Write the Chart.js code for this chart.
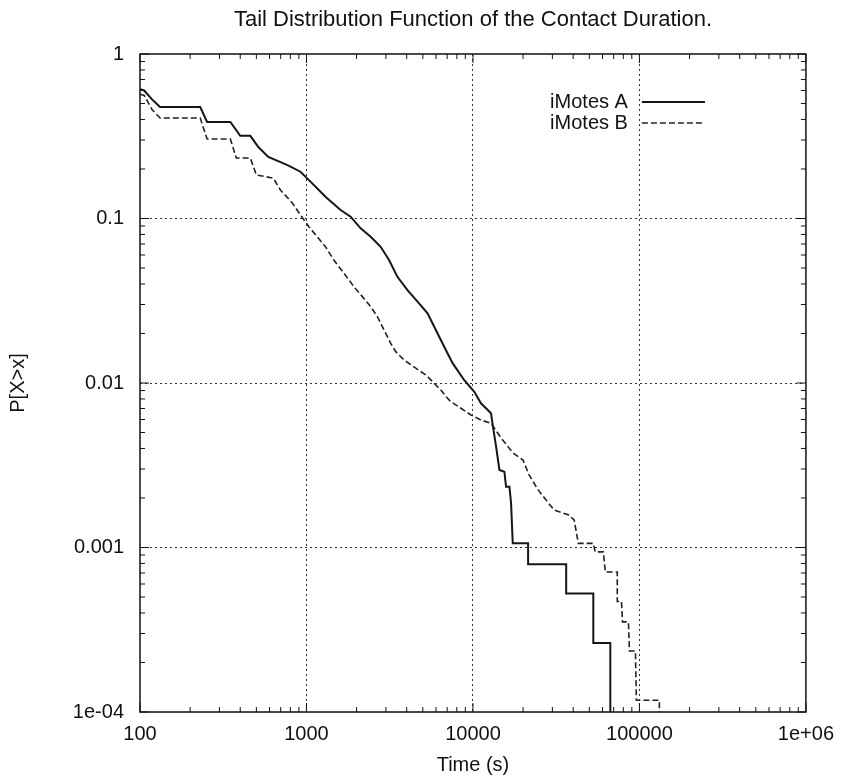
<!DOCTYPE html>
<html>
<head>
<meta charset="utf-8">
<title>Tail Distribution Function of the Contact Duration.</title>
<script src="https://cdn.jsdelivr.net/npm/chart.js@4.4.0/dist/chart.umd.min.js"></script>
<style>
  html, body { margin: 0; padding: 0; background: #fff; }
  canvas { display: block; }
</style>
</head>
<body>
<canvas id="chart" width="844" height="781"></canvas>
<script>
// values: contact duration (s) and P[X>x]
const timeA = [100, 106, 118, 132, 230, 253, 349, 400, 460, 514, 590, 769, 920, 1057, 1300, 1603, 1842, 2115, 2430, 2790, 3133, 3518, 4043, 4648, 5337, 5987, 6720, 7547, 8870, 10190, 11170, 12270, 12830, 13140, 13770, 14420, 15450, 15810, 16560, 16940, 17340, 21440, 21440, 36310, 36310, 52840, 52840, 66850, 66850];
const probA = [0.61, 0.60, 0.53, 0.476, 0.476, 0.386, 0.386, 0.318, 0.318, 0.272, 0.237, 0.211, 0.1925, 0.1675, 0.1357, 0.1127, 0.1026, 0.0872, 0.0775, 0.0673, 0.0559, 0.0442, 0.0367, 0.0312, 0.0265, 0.021, 0.0166, 0.0132, 0.0104, 0.00885, 0.00753, 0.00686, 0.00655, 0.00556, 0.0041, 0.00296, 0.00289, 0.00234, 0.00234, 0.00186, 0.00106, 0.00106, 0.00079, 0.00079, 0.000526, 0.000526, 0.000263, 0.000263, 0.00005];

const timeB = [100, 106, 118, 132, 230, 253, 349, 379, 460, 500, 632, 697, 824, 920, 1033, 1159, 1300, 1459, 1678, 1927, 2166, 2430, 2667, 2924, 3207, 3438, 3857, 4535, 5210, 5715, 6412, 7040, 7360, 8470, 9730, 11170, 12830, 14760, 17420, 20000, 21730, 24630, 28310, 30770, 37350, 40550, 42950, 52840, 54300, 60700, 62400, 73600, 73600, 78000, 79100, 85900, 87100, 94600, 95900, 131800, 131800];
const probB = [0.57, 0.56, 0.46, 0.408, 0.408, 0.304, 0.304, 0.233, 0.233, 0.184, 0.176, 0.149, 0.124, 0.105, 0.0892, 0.0775, 0.0674, 0.056, 0.0465, 0.0385, 0.0335, 0.0291, 0.0253, 0.021, 0.0174, 0.0155, 0.0138, 0.0123, 0.0112, 0.0102, 0.00906, 0.00807, 0.0077, 0.00702, 0.00639, 0.00596, 0.00569, 0.00463, 0.00375, 0.0034, 0.00276, 0.00224, 0.00187, 0.00169, 0.00158, 0.00147, 0.00106, 0.00106, 0.00094, 0.00094, 0.00071, 0.00071, 0.00047, 0.00047, 0.000353, 0.000353, 0.000235, 0.000235, 0.000118, 0.000118, 0.00005];

const seriesNames = ["iMotes A", "iMotes B"];
const chartTitle = "Tail Distribution Function of the Contact Duration.";

const xTickValues = [100, 1000, 10000, 100000, 1000000];
const xTickLabels = ["100", "1000", "10000", "100000", "1e+06"];
const yTickValues = [0.0001, 0.001, 0.01, 0.1, 1];
const yTickLabels = ["1e-04", "0.001", "0.01", "0.1", "1"];

const FONT = "'Liberation Sans', Arial, Helvetica, sans-serif";

function isMajor(v) {
  const l = Math.log10(v);
  return Math.abs(l - Math.round(l)) < 1e-6;
}

function labelFor(values, labels, v) {
  const i = values.findIndex((t) => Math.abs(Math.log10(t) - Math.log10(v)) < 1e-6);
  return i >= 0 ? labels[i] : "";
}

// all 1..9 x 10^n positions between min and max
function logTicks(min, max) {
  const out = [];
  for (let e = Math.round(Math.log10(min)); e < Math.round(Math.log10(max)); e++) {
    for (let m = 1; m < 10; m++) out.push({ value: m * Math.pow(10, e) });
  }
  out.push({ value: max });
  return out;
}

function gridColor(ctx, min, max) {
  const v = ctx.tick && ctx.tick.value;
  if (!v || !isMajor(v) || v === min || v === max) return "rgba(0,0,0,0)";
  return "#333";
}

// gnuplot style frame: border, inward ticks on all sides, title over the plot, legend inside top right
const framePlugin = {
  id: "frame",
  afterDatasetsDraw(chart) {
    const { ctx, chartArea: a, scales } = chart;
    ctx.save();
    ctx.strokeStyle = "#111";
    ctx.lineWidth = 1;
    ctx.setLineDash([]);
    ctx.beginPath();
    scales.x.ticks.forEach((t) => {
      const px = scales.x.getPixelForValue(t.value);
      const len = isMajor(t.value) ? 9 : 5;
      ctx.moveTo(px, a.bottom);
      ctx.lineTo(px, a.bottom - len);
      ctx.moveTo(px, a.top);
      ctx.lineTo(px, a.top + len);
    });
    scales.y.ticks.forEach((t) => {
      const py = scales.y.getPixelForValue(t.value);
      const len = isMajor(t.value) ? 9 : 5;
      ctx.moveTo(a.left, py);
      ctx.lineTo(a.left + len, py);
      ctx.moveTo(a.right, py);
      ctx.lineTo(a.right - len, py);
    });
    ctx.stroke();

    ctx.lineWidth = 1.5;
    ctx.strokeRect(a.left, a.top, a.right - a.left, a.bottom - a.top);

    ctx.fillStyle = "#111";
    ctx.textBaseline = "middle";

    // title, centred on the plot
    ctx.font = "22px " + FONT;
    ctx.textAlign = "center";
    ctx.fillText(chartTitle, (a.left + a.right) / 2, 20);

    // legend
    ctx.font = "20px " + FONT;
    ctx.textAlign = "right";
    chart.data.datasets.forEach((ds, i) => {
      const y = a.top + 48 + i * 21;
      ctx.fillText(ds.label, a.right - 178, y);
      ctx.beginPath();
      ctx.lineWidth = ds.borderWidth;
      ctx.strokeStyle = ds.borderColor;
      ctx.setLineDash(ds.borderDash || []);
      ctx.moveTo(a.right - 164, y);
      ctx.lineTo(a.right - 101, y);
      ctx.stroke();
    });
    ctx.restore();
  },
};

new Chart(document.getElementById("chart"), {
  type: "line",
  data: {
    datasets: [
      {
        label: seriesNames[0],
        data: timeA.map((t, i) => ({ x: t, y: probA[i] })),
        borderColor: "#161616",
        borderWidth: 2,
        pointRadius: 0,
        tension: 0,
      },
      {
        label: seriesNames[1],
        data: timeB.map((t, i) => ({ x: t, y: probB[i] })),
        borderColor: "#222",
        borderWidth: 1.6,
        borderDash: [6, 3],
        pointRadius: 0,
        tension: 0,
      },
    ],
  },
  options: {
    responsive: false,
    animation: false,
    layout: { padding: { left: 0, right: 38, top: 54, bottom: 0 } },
    plugins: {
      legend: { display: false },
      tooltip: { enabled: false },
      title: { display: false },
    },
    scales: {
      x: {
        type: "logarithmic",
        min: 100,
        max: 1000000,
        afterBuildTicks: (scale) => { scale.ticks = logTicks(100, 1000000); },
        afterFit: (scale) => { scale.height = 69; },
        ticks: {
          autoSkip: false,
          maxRotation: 0,
          padding: 10,
          color: "#111",
          font: { family: FONT, size: 20 },
          callback: (v) => labelFor(xTickValues, xTickLabels, v),
        },
        grid: {
          drawTicks: false,
          lineWidth: 1,
          color: (ctx) => gridColor(ctx, 100, 1000000),
        },
        border: { display: false, dash: [2, 3] },
        title: {
          display: true,
          text: "Time (s)",
          color: "#111",
          font: { family: FONT, size: 20 },
          padding: { top: 0, bottom: 4 },
        },
      },
      y: {
        type: "logarithmic",
        min: 0.0001,
        max: 1,
        afterBuildTicks: (scale) => { scale.ticks = logTicks(0.0001, 1); },
        afterFit: (scale) => { scale.width = 140; },
        ticks: {
          autoSkip: false,
          padding: 16,
          color: "#111",
          font: { family: FONT, size: 20 },
          callback: (v) => labelFor(yTickValues, yTickLabels, v),
        },
        grid: {
          drawTicks: false,
          lineWidth: 1,
          color: (ctx) => gridColor(ctx, 0.0001, 1),
        },
        border: { display: false, dash: [2, 3] },
        title: {
          display: true,
          text: "P[X>x]",
          color: "#111",
          font: { family: FONT, size: 20 },
          padding: { top: 6, bottom: 0 },
        },
      },
    },
  },
  plugins: [framePlugin],
});
</script>
</body>
</html>
